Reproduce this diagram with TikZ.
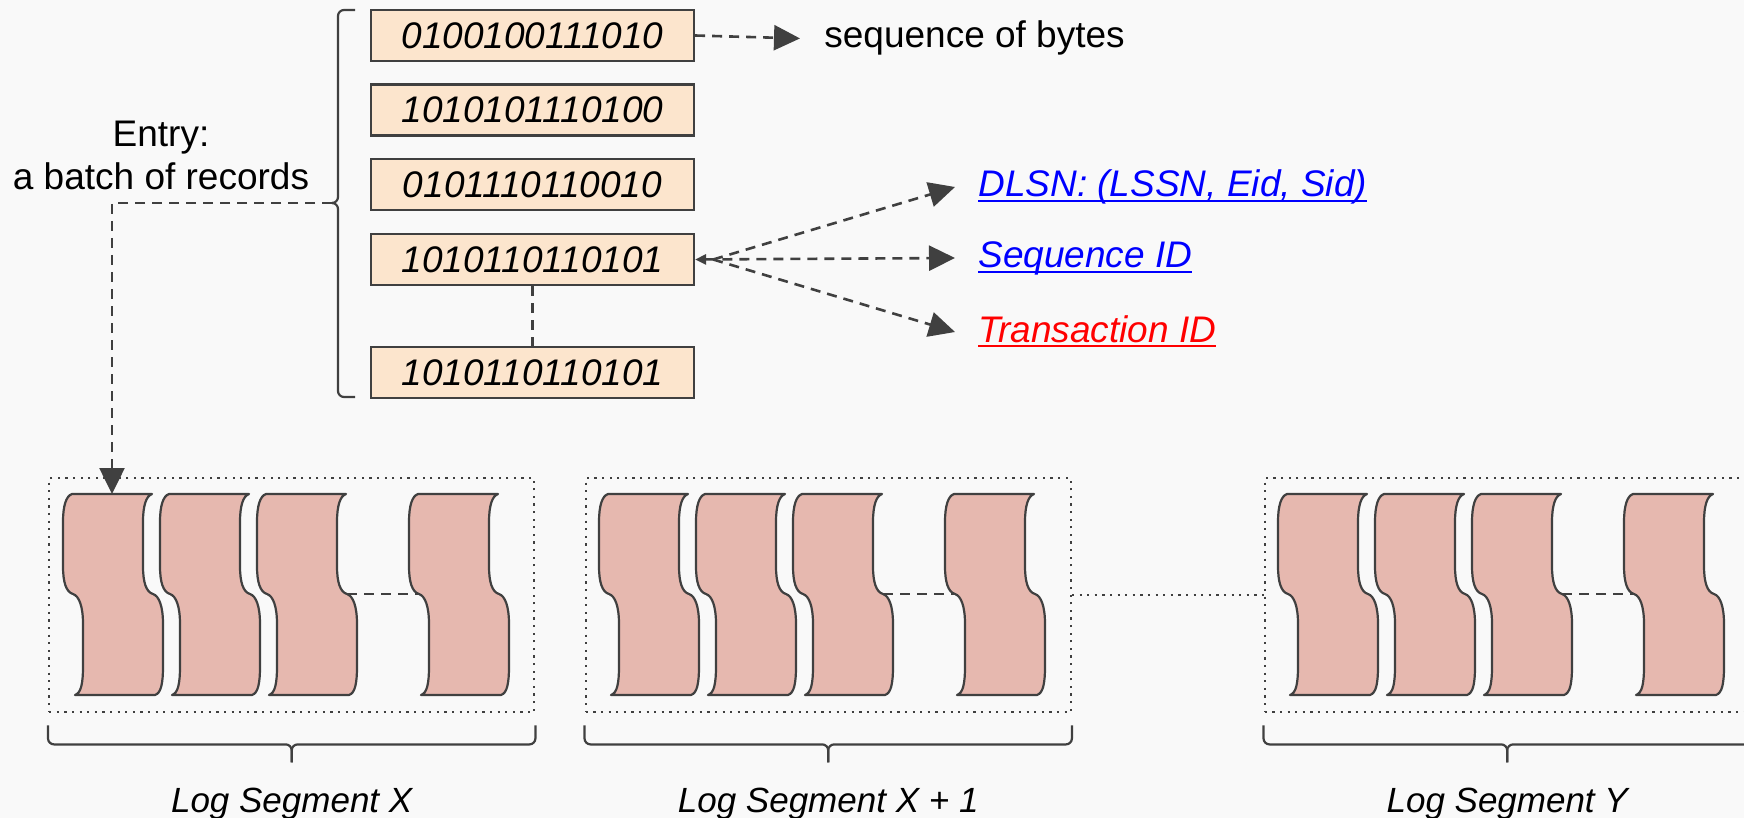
\documentclass[tikz,border=0pt]{standalone}
\usepackage{fontspec}
\setmainfont{Liberation Sans}
\usetikzlibrary{arrows.meta}

\definecolor{linegray}{HTML}{404040}
\definecolor{boxfill}{HTML}{FCE5CD}
\definecolor{recpink}{HTML}{E6B8AF}
\definecolor{linkblue}{HTML}{0000FF}
\definecolor{linkred}{HTML}{FF0000}
\definecolor{bggray}{HTML}{F9F9F9}

% underlined link text
\newcommand{\linkline}[1]{\setbox0\hbox{#1}\rlap{\rule[-2.5pt]{\wd0}{1pt}}\box0}

\tikzset{
  bitbox/.style={draw=linegray, line width=1.1pt, fill=boxfill, minimum width=161.5pt,
    minimum height=25.5pt, inner sep=0pt, font=\fontsize{18.5}{21.5}\selectfont\itshape},
  plaintext/.style={inner sep=0pt, font=\fontsize{18.5}{21.5}\selectfont},
  linktext/.style={inner ysep=0pt, inner xsep=11.5pt, text height=14pt, text depth=4pt,
    font=\fontsize{18.5}{21.5}\selectfont\itshape},
  seglabel/.style={inner sep=0pt, font=\fontsize{17.5}{21}\selectfont\itshape},
  segbox/.style={draw=linegray, line width=1.2pt, dash pattern=on 1.1pt off 2.7pt,
    minimum width=242.5pt, minimum height=117pt, inner sep=0pt, anchor=north west},
  segbrace/.style={draw=linegray, line width=1.1pt, rounded corners=3pt},
  dasharrow/.style={draw=linegray, line width=1.3pt, dash pattern=on 5pt off 3.5pt, ->},
  dashline/.style={draw=linegray, line width=1.2pt, dash pattern=on 5pt off 3.5pt},
  dotline/.style={draw=linegray, line width=1.2pt, dash pattern=on 1.1pt off 2.7pt},
  logrec/.pic={
    \draw[fill=recpink, draw=linegray, line width=1.1pt, line join=round]
      (0,0) .. controls (-6,2) and (-9,12) .. (-9,28) -- (-9,72)
      .. controls (-9,88) and (-6,98) .. (1,100)
      .. controls (7,102) and (11,112) .. (11,130) -- (11,172)
      .. controls (11,190) and (9,199) .. (3,201) -- (83,201)
      .. controls (89,199) and (91,190) .. (91,172) -- (91,130)
      .. controls (91,112) and (87,102) .. (81,100)
      .. controls (74,98) and (71,88) .. (71,72) -- (71,28)
      .. controls (71,12) and (74,2) .. (80,0) -- cycle;
    \coordinate (-top) at (40,0);
    \coordinate (-in) at (1,100);
    \coordinate (-out) at (81,100);
  }
}

\begin{document}
\begin{tikzpicture}[x=0.5pt, y=-0.5pt, >={Triangle[length=13pt,width=12.5pt]}]
 \useasboundingbox (0,0) rectangle (1744,818);
 \clip (0,0) rectangle (1744,818);
 \fill[bggray] (0,0) rectangle (1744,818);

 % the entry
 \node[bitbox] (b1) at (532.5,35.5) {0100100111010};
 \node[bitbox] (b2) at (532.5,110) {1010101110100};
 \node[bitbox] (b3) at (532.5,184.5) {0101110110010};
 \node[bitbox] (b4) at (532.5,259.5) {1010110110101};
 \node[bitbox] (b5) at (532.5,372.5) {1010110110101};
 \draw[dashline] (b4.south) -- (b5.north);

 \node[plaintext, anchor=base west, inner xsep=12pt] (bytes) at (800,48) {sequence of bytes};
 \draw[dasharrow] (b1.east) -- (bytes.west);

 \node[linktext, anchor=base west, text=linkblue] (dlsn) at (955,197) {\linkline{DLSN: (LSSN, Eid, Sid)}};
 \node[linktext, anchor=base west, text=linkblue] (seqid) at (955,268) {\linkline{Sequence ID}};
 \node[linktext, anchor=base west, text=linkred] (txnid) at (955,342) {\linkline{Transaction ID}};
 \draw[dasharrow] ([xshift=9pt]b4.east) -- (dlsn.west);
 \draw[dasharrow, arrows={Triangle[length=5.5pt,width=5pt]}-{Triangle[length=13pt,width=12.5pt]}] (b4.east) -- (seqid.west);
 \draw[dasharrow] ([xshift=9pt]b4.east) -- (txnid.west);

 \node[plaintext, align=center] (entry) at (161,155) {Entry:\\a batch of records};
 \coordinate (entrytip) at (332,203);
 \draw[segbrace] (355,10) -| (338,203) -- (entrytip);
 \draw[segbrace] (355,397) -| (338,203) -- (entrytip);

 % log segments
 \node[segbox] (segX) at (48,477) {};
 \node[segbox] (segX1) at (584.5,477) {};
 \node[segbox] (segY) at (1263.5,477) {};

 \pic (xr1) at (72,494) {logrec};
 \pic (xr2) at (169,494) {logrec};
 \pic (xr3) at (266,494) {logrec};
 \pic (xr4) at (418,494) {logrec};
 \draw[dashline] (xr3-out) -- (xr4-in);

 \pic (xar1) at (608,494) {logrec};
 \pic (xar2) at (705,494) {logrec};
 \pic (xar3) at (802,494) {logrec};
 \pic (xar4) at (954,494) {logrec};
 \draw[dashline] (xar3-out) -- (xar4-in);

 \pic (yr1) at (1287,494) {logrec};
 \pic (yr2) at (1384,494) {logrec};
 \pic (yr3) at (1481,494) {logrec};
 \pic (yr4) at (1633,494) {logrec};
 \draw[dashline] (yr3-out) -- (yr4-in);

 \draw[dotline] (segX1.east) -- (segY.west);
 \draw[dasharrow] (entrytip) -| (xr1-top);

 % braces and names
 \foreach \s in {segX, segX1, segY} {
   \draw[segbrace] ([yshift=-6pt]\s.south west) |- ([yshift=-15.5pt]\s.south) -- ([yshift=-24.5pt]\s.south);
   \draw[segbrace] ([yshift=-6pt]\s.south east) |- ([yshift=-15.5pt]\s.south) -- ([yshift=-24.5pt]\s.south);
 }
 \node[seglabel, anchor=base] (labX) at ([yshift=-49.5pt]segX.south) {Log Segment X};
 \node[seglabel, anchor=base] (labX1) at ([yshift=-49.5pt]segX1.south) {Log Segment X + 1};
 \node[seglabel, anchor=base] (labY) at ([yshift=-49.5pt]segY.south) {Log Segment Y};
\end{tikzpicture}
\end{document}
